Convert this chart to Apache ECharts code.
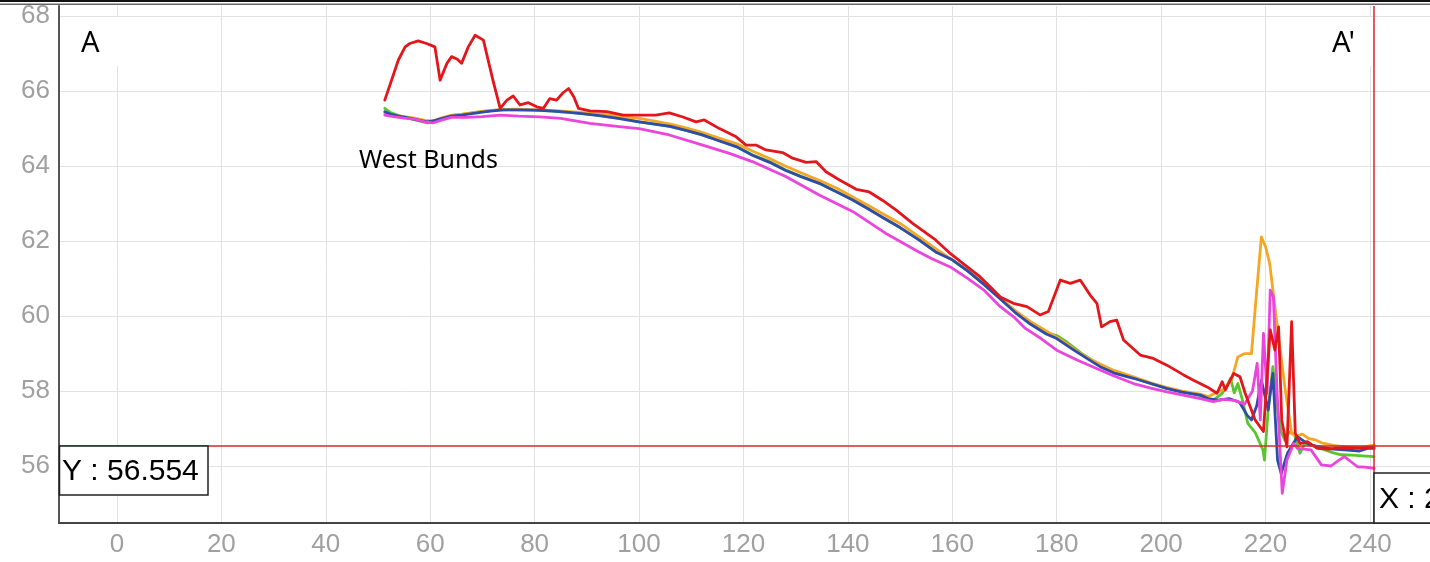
<!DOCTYPE html>
<html>
<head>
<meta charset="utf-8">
<script src="https://cdn.jsdelivr.net/npm/echarts@6/dist/echarts.min.js"></script>
<style>
html,body{margin:0;padding:0;background:#fff;}
#chart{width:1430px;height:562px;}
</style>
</head>
<body>
<div id="chart"></div>
<script>
// Tick values
const xTicks = [0,20,40,60,80,100,120,140,160,180,200,220,240];
const yTicks = [56,58,60,62,64,66,68];

// Crosshair values
const crossX = 240.8;
const crossY = 56.554;
const crossXLabel = 'X : 240.834';
const crossYLabel = 'Y : 56.554';

// Text labels
const labelA = 'A';
const labelA2 = "A'";
const labelWest = 'West Bunds';

// Series data [distance, elevation]
const redData = [[51.3,65.76],[52.6,66.29],[53.9,66.83],[55.2,67.18],[56.1,67.27],[57.7,67.34],[59.3,67.27],[60.9,67.18],[61.9,66.29],[63.2,66.74],[64.1,66.92],[65.2,66.85],[66.0,66.74],[67.3,67.18],[68.6,67.49],[70.2,67.36],[70.8,67.0],[72,66.3],[73.4,65.54],[74.7,65.76],[75.9,65.87],[77.2,65.63],[78.8,65.69],[80.4,65.58],[81.7,65.54],[82.9,65.8],[84.2,65.76],[85.4,65.95],[86.5,66.07],[87.5,65.85],[88.4,65.54],[90.6,65.47],[93.8,65.45],[97,65.36],[100,65.36],[103.2,65.36],[105.8,65.42],[108.4,65.31],[110.9,65.18],[112.5,65.23],[115.4,65.0],[118.6,64.78],[120.5,64.56],[122.4,64.56],[124.3,64.43],[127.5,64.36],[129.4,64.21],[132,64.1],[133.9,64.12],[135.8,63.85],[138.4,63.63],[141.6,63.38],[144.1,63.31],[146.6,63.09],[149.2,62.83],[152.4,62.47],[156.8,62.03],[159.6,61.67],[162.5,61.35],[165.3,61.05],[167.5,60.75],[169.2,60.51],[171.7,60.34],[174.3,60.25],[176.8,60.03],[178.4,60.12],[180.7,60.96],[182.6,60.87],[184.5,60.96],[186.4,60.56],[187.7,60.34],[188.6,59.71],[190.2,59.85],[191.5,59.89],[192.8,59.36],[196,58.96],[198.5,58.87],[201.1,58.69],[204.3,58.43],[206.2,58.29],[208.8,58.11],[210.7,57.94],[211.7,58.25],[212.3,58.03],[213.9,58.47],[215.1,58.38],[216.1,57.94],[218,57.23],[219.6,56.92],[220.9,59.63],[221.8,59.09],[222.5,59.71],[223.1,57.23],[224.1,56.51],[225,59.85],[225.7,56.87],[226.6,56.6],[228,56.65],[229.9,56.47],[232,56.45],[235,56.5],[238,56.48],[240.8,56.5]];

const orangeData = [[51.3,65.42],[53,65.35],[55,65.32],[57,65.28],[59,65.22],[60.5,65.2],[62,65.28],[64,65.35],[66,65.38],[68,65.42],[70,65.46],[73,65.5],[76,65.52],[80,65.5],[84,65.48],[88,65.44],[92,65.4],[96,65.33],[100,65.27],[103,65.2],[106,65.12],[109,65.02],[112,64.9],[115,64.76],[118.6,64.6],[121.7,64.4],[125,64.2],[128,64.0],[131,63.82],[134.5,63.62],[138,63.4],[141,63.17],[144,62.94],[147,62.7],[150,62.47],[153.6,62.12],[156.8,61.8],[160,61.5],[163,61.2],[166,60.88],[169,60.5],[172,60.15],[175,59.85],[178,59.6],[181,59.35],[184,59.05],[186,58.88],[188.3,58.72],[191,58.55],[194.7,58.38],[198,58.22],[201,58.1],[204,58.0],[207.5,57.92],[209,57.85],[210.3,57.94],[212,58.05],[213.5,58.3],[214.7,58.91],[216,59.0],[217.3,59.0],[218.2,60.5],[219.2,62.11],[220,61.85],[220.8,61.4],[222.1,59.89],[223.7,58.11],[225,56.87],[226,56.8],[227,56.85],[228.2,56.74],[229.5,56.7],[230.7,56.62],[233,56.55],[235.1,56.51],[238,56.5],[240.8,56.56]];

const greenData = [[51.3,65.54],[52.5,65.42],[54,65.35],[56,65.27],[58,65.2],[59.5,65.15],[61,65.2],[62.5,65.27],[64,65.35],[66,65.38],[68,65.42],[70,65.46],[73,65.5],[76,65.5],[80,65.49],[84,65.46],[88,65.42],[92,65.36],[96,65.28],[100,65.18],[103,65.12],[106,65.05],[109,64.95],[112,64.83],[115,64.7],[118.6,64.52],[121.7,64.3],[125,64.12],[128,63.9],[131,63.73],[134.5,63.55],[138,63.3],[141,63.1],[144,62.86],[147,62.6],[150,62.36],[153.6,62.04],[156.8,61.72],[160,61.5],[163,61.2],[166,60.85],[169,60.48],[172,60.12],[175,59.8],[178,59.55],[180,59.48],[182,59.3],[185,58.98],[188.3,58.68],[191,58.5],[194.7,58.35],[198,58.2],[201,58.08],[204,57.98],[207.5,57.88],[208.6,57.78],[210,57.76],[211.7,57.94],[212.5,58.1],[213.3,58.34],[214,57.95],[214.7,58.2],[215.5,57.8],[216.6,57.14],[218,56.9],[219.5,56.43],[219.8,56.16],[220.5,57.5],[221.4,58.65],[222.3,57.5],[223,56.9],[223.7,56.69],[224.5,56.9],[225.5,56.85],[226.6,56.34],[227.5,56.6],[229,56.55],[231,56.45],[233,56.35],[234.5,56.3],[236.6,56.29],[238.5,56.27],[240.8,56.25]];

const blueData = [[51.3,65.45],[52.5,65.38],[54,65.33],[56,65.28],[58,65.22],[59.5,65.18],[61,65.22],[62.5,65.28],[64,65.33],[66,65.36],[68,65.4],[70,65.44],[72,65.47],[74,65.5],[77,65.5],[80,65.49],[83,65.47],[86,65.44],[89,65.4],[92,65.35],[96,65.27],[100,65.18],[103,65.12],[106,65.06],[109,64.95],[112,64.84],[115,64.69],[118.6,64.52],[121.7,64.29],[125,64.1],[128,63.89],[131,63.72],[134.5,63.54],[138,63.3],[141,63.09],[144,62.85],[147,62.6],[150,62.36],[153.6,62.03],[156.8,61.71],[160,61.5],[163,61.2],[166,60.85],[169,60.48],[172,60.1],[175,59.78],[178,59.52],[180,59.4],[183,59.12],[186,58.85],[188.3,58.65],[191,58.48],[194.7,58.34],[198,58.2],[201,58.07],[204,57.97],[207.5,57.89],[209,57.8],[211,57.76],[213,57.8],[215,57.7],[216.5,57.35],[217.3,57.23],[218.3,57.6],[219.2,58.29],[220.5,57.49],[221.4,58.47],[222.3,56.16],[223,55.8],[224.2,56.34],[226.1,56.78],[227.5,56.65],[228.7,56.56],[231,56.5],[233,56.45],[235.1,56.43],[238,56.4],[239.5,56.47],[240.8,56.47]];

const magentaData = [[51.3,65.36],[53,65.32],[55,65.28],[57,65.25],[59,65.18],[60.5,65.15],[62,65.22],[64,65.3],[67,65.3],[70,65.32],[73.4,65.36],[77,65.33],[81,65.31],[85,65.27],[90.6,65.14],[96.2,65.05],[100,65.0],[105.8,64.83],[112.2,64.56],[117.3,64.34],[121.7,64.12],[128.1,63.72],[134.5,63.23],[140.9,62.79],[147.2,62.21],[153.6,61.71],[156.1,61.53],[159.6,61.31],[163,61.0],[166,60.7],[169.2,60.25],[172,59.95],[174,59.67],[177,59.4],[180,59.09],[184,58.82],[188.3,58.56],[191,58.4],[194.7,58.2],[198,58.08],[201.1,57.98],[204,57.9],[207.5,57.8],[210,57.72],[212,57.78],[214,57.75],[216,57.65],[217.5,58.0],[218.4,58.74],[219,57.23],[219.6,59.54],[220.3,57.94],[220.9,60.69],[221.5,60.51],[222.2,58.0],[223.2,55.27],[224.1,56.16],[225.4,56.6],[226.1,56.47],[228.7,56.43],[230.7,56.03],[232.5,56.0],[234,56.15],[235.1,56.25],[236.5,56.1],[237.6,55.98],[239,55.97],[240.8,55.94]];

const seriesDefs = [
  {name:'green', data:greenData, color:'#5ac52c'},
  {name:'orange', data:orangeData, color:'#f5a623'},
  {name:'blue', data:blueData, color:'#2e4ca8'},
  {name:'magenta', data:magentaData, color:'#ea45dc'},
  {name:'red', data:redData, color:'#e3161b'}
];

const chart = echarts.init(document.getElementById('chart'), null, {renderer:'canvas'});

const series = seriesDefs.map(s => ({
  name: s.name,
  type: 'line',
  data: s.data,
  showSymbol: false,
  symbol: 'none',
  silent: true,
  lineStyle: {color: s.color, width: 2.8, join: 'round', cap: 'round'},
  itemStyle: {color: s.color},
  z: 3
}));

// crosshair on red series
series[series.length-1].markLine = {
  silent: true,
  symbol: 'none',
  animation: false,
  label: {show:false},
  lineStyle: {color:'#d9262b', width:1.5, type:'solid'},
  data: [{xAxis: crossX}, {yAxis: crossY}]
};

const option = {
  animation: false,
  backgroundColor: '#fff',
  grid: {left:59, right:0, top:6, bottom:39, containLabel:false},
  xAxis: {
    type: 'value',
    min: -11.1,
    max: 251.5,
    axisLine: {show:true, onZero:false, lineStyle:{color:'#444', width:2}},
    axisTick: {show:false, customValues: xTicks},
    axisLabel: {customValues: xTicks, color:'#a0a0a0', fontSize:26, fontFamily:'Liberation Sans', margin:9},
    splitLine: {show:true, lineStyle:{color:'#e2e2e2', width:1}}
  },
  yAxis: {
    type: 'value',
    min: 54.48,
    max: 68.27,
    axisLine: {show:true, onZero:false, lineStyle:{color:'#555', width:2}},
    axisTick: {show:false, customValues: yTicks},
    axisLabel: {customValues: yTicks, color:'#a0a0a0', fontSize:26, fontFamily:'Liberation Sans', margin:9},
    splitLine: {show:true, lineStyle:{color:'#e2e2e2', width:1}}
  },
  series: series,
  graphic: [
    // top window border
    {type:'rect', z:200, shape:{x:0,y:0,width:1430,height:2}, style:{fill:'#111'}},
    {type:'rect', z:200, shape:{x:0,y:3.5,width:1430,height:1.5}, style:{fill:'#666'}},
    // A label
    {type:'rect', z:1, shape:{x:62,y:17,width:56,height:49}, style:{fill:'#fff'}},
    {type:'text', z:5, left:81, top:29, style:{text:labelA, fontSize:29, fontFamily:'Noto Sans', fill:'#000'}},
    // A' label
    {type:'rect', z:1, shape:{x:1317,y:17,width:55,height:49}, style:{fill:'#fff'}},
    {type:'text', z:5, left:1332, top:29, style:{text:labelA2, fontSize:29, fontFamily:'Noto Sans', fill:'#000'}},
    // West Bunds
    {type:'text', z:5, left:359, top:148, style:{text:labelWest, fontSize:25, fontFamily:'Noto Sans', fill:'#000'}},
    // Y box
    {type:'rect', z:100, shape:{x:59.5,y:446,width:148.5,height:49}, style:{fill:'#fff', stroke:'#222', lineWidth:1.5}},
    {type:'text', z:101, left:62, top:457, style:{text:crossYLabel, fontSize:30, fontFamily:'Liberation Sans', fill:'#000'}},
    // X box
    {type:'rect', z:100, shape:{x:1374,y:473,width:80,height:50}, style:{fill:'#fff', stroke:'#222', lineWidth:1.5}},
    {type:'text', z:101, left:1379, top:485, style:{text:crossXLabel, fontSize:30, fontFamily:'Liberation Sans', fill:'#000'}}
  ]
};
chart.setOption(option);
</script>
</body>
</html>
